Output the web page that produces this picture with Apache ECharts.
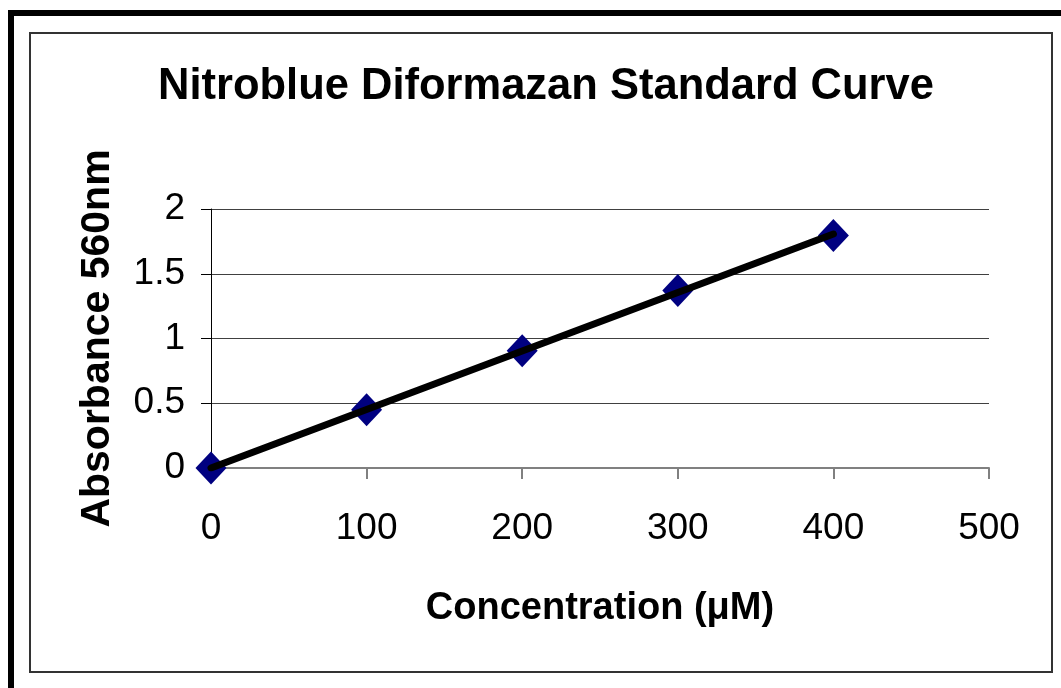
<!DOCTYPE html>
<html>
<head>
<meta charset="utf-8">
<script src="https://cdn.jsdelivr.net/npm/echarts@6/dist/echarts.min.js"></script>
<style>
  html, body { margin: 0; padding: 0; background: #fff; }
  #chart { width: 1061px; height: 688px; }
</style>
</head>
<body>
<div id="chart"></div>
<script>
// concentration (uM) vs absorbance at 560nm
var concentration = [0, 100, 200, 300, 400]
var absorbance = [0, 0.45, 0.905, 1.37, 1.795]
// linear trendline end points
var trendX = [0, 400]
var trendY = [0.0, 1.807]

var chart = echarts.init(document.getElementById('chart'))

var font = '"Liberation Sans", Arial, sans-serif'

chart.setOption({
  animation: false,
  textStyle: { fontFamily: font },
  title: {
    text: 'Nitroblue Diformazan Standard Curve',
    left: 153,
    top: 60,
    textStyle: { fontSize: 43.5, fontWeight: 'bold', color: '#000', fontFamily: font }
  },
  graphic: [
    {
      type: 'rect',
      shape: { x: 11, y: 13, width: 1200, height: 800 },
      style: { fill: 'none', stroke: '#000', lineWidth: 6 },
      z: 100
    },
    {
      type: 'rect',
      shape: { x: 30, y: 33, width: 1022, height: 639 },
      style: { fill: 'none', stroke: '#333', lineWidth: 2 },
      z: 100
    }
  ],
  grid: { left: 211, right: 72, top: 209, bottom: 220 },
  xAxis: {
    type: 'value',
    min: 0,
    max: 500,
    interval: 100,
    name: 'Concentration (\u03bcM)',
    nameLocation: 'middle',
    nameGap: 122,
    nameTextStyle: { fontSize: 38, fontWeight: 'bold', color: '#000' },
    axisLine: { show: true, onZero: false, lineStyle: { color: '#808080', width: 2 } },
    axisTick: { show: true, length: 11, lineStyle: { color: '#808080', width: 2 } },
    axisLabel: { fontSize: 37, color: '#000', margin: 42 },
    splitLine: { show: false }
  },
  yAxis: {
    type: 'value',
    min: 0,
    max: 2,
    interval: 0.5,
    name: 'Absorbance 560nm',
    nameLocation: 'middle',
    nameGap: 93,
    nameTextStyle: { fontSize: 41, fontWeight: 'bold', color: '#000' },
    axisLine: { show: true, lineStyle: { color: '#000', width: 1 } },
    axisTick: { show: true, length: 10, lineStyle: { color: '#000' } },
    axisLabel: { fontSize: 37, color: '#000', margin: 26 },
    splitLine: { show: true, lineStyle: { color: '#404040', width: 1 } }
  },
  series: [
    {
      name: 'data',
      type: 'scatter',
      symbol: 'diamond',
      symbolSize: [31, 33],
      itemStyle: { color: '#000080', opacity: 1 },
      data: concentration.map(function (c, i) { return [c, absorbance[i]] }),
      z: 2
    },
    {
      name: 'trend',
      type: 'line',
      showSymbol: false,
      symbol: 'none',
      lineStyle: { color: '#000', width: 7, cap: 'round' },
      data: trendX.map(function (c, i) { return [c, trendY[i]] }),
      z: 3
    }
  ]
})
</script>
</body>
</html>
